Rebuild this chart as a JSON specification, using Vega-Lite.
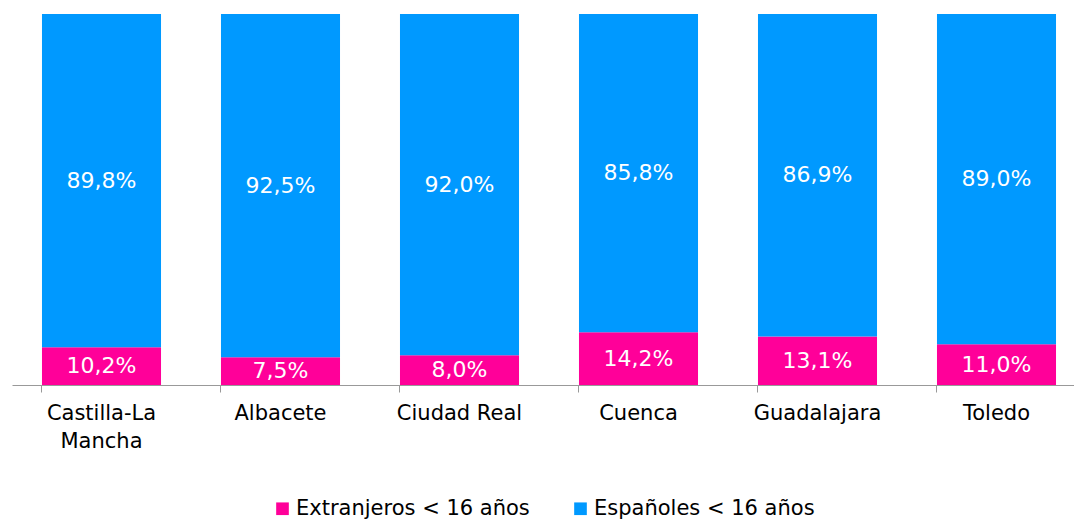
{
  "$schema": "https://vega.github.io/schema/vega-lite/v6.json",
  "width": 1074,
  "height": 371,
  "autosize": {"type": "none"},
  "padding": {"left": 12, "top": 14, "right": 0, "bottom": 134},
  "background": "white",
  "config": {
    "view": {"stroke": null},
    "font": "DejaVu Sans",
    "locale": {"number": {"decimal": ",", "thousands": ".", "grouping": [3], "currency": ["", " €"]}}
  },
  "data": {
    "values": [
      {"region": "Castilla-La Mancha", "serie": "Extranjeros < 16 años", "valor": 0.102},
      {"region": "Castilla-La Mancha", "serie": "Españoles < 16 años", "valor": 0.898},
      {"region": "Albacete", "serie": "Extranjeros < 16 años", "valor": 0.075},
      {"region": "Albacete", "serie": "Españoles < 16 años", "valor": 0.925},
      {"region": "Ciudad Real", "serie": "Extranjeros < 16 años", "valor": 0.080},
      {"region": "Ciudad Real", "serie": "Españoles < 16 años", "valor": 0.920},
      {"region": "Cuenca", "serie": "Extranjeros < 16 años", "valor": 0.142},
      {"region": "Cuenca", "serie": "Españoles < 16 años", "valor": 0.858},
      {"region": "Guadalajara", "serie": "Extranjeros < 16 años", "valor": 0.131},
      {"region": "Guadalajara", "serie": "Españoles < 16 años", "valor": 0.869},
      {"region": "Toledo", "serie": "Extranjeros < 16 años", "valor": 0.110},
      {"region": "Toledo", "serie": "Españoles < 16 años", "valor": 0.890}
    ]
  },
  "transform": [
    {"stack": "valor", "groupby": ["region"], "sort": [{"field": "serie", "order": "descending"}], "as": ["v0", "v1"]},
    {"calculate": "(datum.v0 + datum.v1) / 2", "as": "vmid"}
  ],
  "encoding": {
    "x": {
      "field": "region",
      "type": "nominal",
      "sort": ["Castilla-La Mancha", "Albacete", "Ciudad Real", "Cuenca", "Guadalajara", "Toledo"],
      "scale": {"paddingInner": 0.335, "paddingOuter": 0.1675},
      "axis": {
        "title": null,
        "labelAngle": 0,
        "bandPosition": 0,
        "tickSize": 7,
        "tickColor": "#999999",
        "domainColor": "#999999",
        "labelFontSize": 21,
        "labelColor": "#000000",
        "labelPadding": 10,
        "labelLineHeight": 28,
        "labelLimit": 300,
        "labelExpr": "datum.value == 'Castilla-La Mancha' ? ['Castilla-La', 'Mancha'] : datum.value"
      }
    }
  },
  "layer": [
    {
      "mark": {"type": "bar"},
      "encoding": {
        "y": {"field": "v0", "type": "quantitative", "scale": {"domain": [0, 1], "nice": false}, "axis": null},
        "y2": {"field": "v1"},
        "color": {
          "field": "serie",
          "type": "nominal",
          "scale": {"domain": ["Extranjeros < 16 años", "Españoles < 16 años"], "range": ["#FF0099", "#0099FF"]},
          "legend": {
            "title": null,
            "orient": "none",
            "direction": "horizontal",
            "legendX": 260,
            "legendY": 484,
            "symbolType": "square",
            "symbolSize": 160,
            "symbolStrokeWidth": 0,
            "labelFontSize": 21,
            "labelLimit": 400,
            "labelColor": "#000000",
            "labelOffset": 3,
            "columnPadding": 40
          }
        }
      }
    },
    {
      "mark": {"type": "text", "color": "white", "fontSize": 22, "baseline": "middle", "align": "center"},
      "encoding": {
        "y": {"field": "vmid", "type": "quantitative", "scale": {"domain": [0, 1], "nice": false}},
        "text": {"field": "valor", "type": "quantitative", "format": ".1%"}
      }
    }
  ]
}
